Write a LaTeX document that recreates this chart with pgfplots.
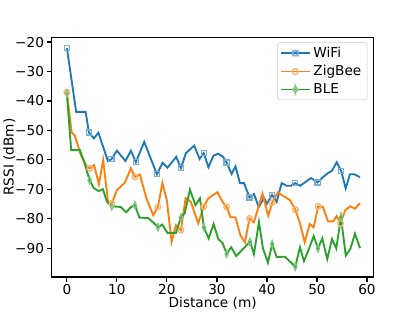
\documentclass[border=0pt]{standalone}
\usepackage{fontspec}
\setmainfont{DejaVu Sans}
\usepackage{pgfplots}
\pgfplotsset{compat=1.18}

\definecolor{c0}{HTML}{1F77B4}
\definecolor{c1}{HTML}{FF7F0E}
\definecolor{c2}{HTML}{2CA02C}

\begin{document}
\begin{tikzpicture}
  \begin{axis}[
      at={(0,0)}, anchor=south west,
      scale only axis,
      width=3.1in, height=2.31in,
      xmin=-3.0, xmax=61.3,
      ymin=-99.8, ymax=-18.4,
      xtick={0,10,...,60},
      ytick={-90,-80,...,-20},
      yticklabels={−90,−80,−70,−60,−50,−40,−30,−20},
      /pgf/number format/assume math mode=true,
      tick align=outside,
      tick pos=left,
      major tick length=3.5pt,
      every tick/.style={black, line width=0.8pt},
      axis line style={line width=0.8pt},
      ticklabel style={font=\fontsize{9.5}{11}\selectfont},
      xticklabel style={yshift=2pt},
      yticklabel style={xshift=1.5pt},
      xlabel={Distance (m)},
      ylabel={RSSI (dBm)},
      label style={font=\fontsize{9.5}{11}\selectfont},
      xlabel style={yshift=5pt},
      ylabel style={yshift=-7pt},
      legend cell align=left,
      legend style={at={(0.981,0.979)}, anchor=north east,
        draw=black!20, rounded corners=2pt, fill=white, fill opacity=0.8,
        text opacity=1, font=\fontsize{9.5}{11}\selectfont,
        row sep=0pt, inner xsep=2pt, inner ysep=1pt},
    ]
    % WiFi
    \addplot[c0, line width=1.3pt, mark=square,
      mark indices={1,4,8,12,14,18,22,27,32,37,42,46,51},
      mark options={solid, draw=c0!60!white, fill=none, line width=0.9pt, mark size=1.8pt},
      legend image code/.code={
        \draw[c0, line width=1.3pt] (0cm,0cm) -- (0.7cm,0cm);
        \draw[c0!60!white, line width=0.9pt, shift={(0.35cm,0cm)}] (-1.8pt,-1.8pt) rectangle (1.8pt,1.8pt);}]
      coordinates {
      (0,-22) (1.86,-43.7) (3.74,-43.7) (4.4,-50.7) (5.4,-52.7) (6.3,-50.8)
      (8.2,-60.4) (8.9,-59.8) (10.0,-56.9) (11.7,-60.4) (12.8,-56.9) (13.8,-60.8)
      (15.46,-53.9) (18.0,-64.9) (19.14,-61.0) (20.1,-62.7) (21.86,-59.0) (22.8,-62.8)
      (23.8,-57.7) (25.46,-55.2) (26.54,-59.7) (27.36,-57.7) (28.3,-62.5) (29.3,-58.6)
      (30.2,-57.9) (31.2,-58.9) (31.94,-60.9) (32.94,-64.8) (33.7,-62.2) (34.6,-67.9)
      (35.4,-67.9) (36.52,-72.8) (37.4,-71.6) (38.36,-76.0) (39.4,-73.0) (40.0,-74.9)
      (41.0,-71.9) (41.94,-74.3) (42.94,-67.9) (43.9,-68.8) (44.8,-68.8) (45.64,-67.9)
      (46.66,-68.8) (48.8,-66.2) (49.3,-66.7) (50.14,-67.7) (51.1,-66.0) (52.2,-64.5)
      (53.0,-63.7) (53.94,-60.8) (54.84,-63.8) (55.74,-69.7) (56.6,-64.9) (57.46,-64.9)
      (58.6,-65.9)
    };
    \addlegendentry{WiFi}
    % ZigBee
    \addplot[c1, line width=1.3pt, mark=o,
      mark indices={1,6,11,15,19,24,28,32,37,42,45,50,55},
      mark options={solid, draw=c1!60!white, fill=none, line width=0.9pt, mark size=2pt},
      legend image code/.code={
        \draw[c1, line width=1.3pt] (0cm,0cm) -- (0.7cm,0cm);
        \draw[c1!60!white, line width=0.9pt] (0.35cm,0cm) circle (2pt);}]
      coordinates {
      (0,-37.0) (0.94,-50.6) (1.6,-51.8) (2.8,-58.4) (4.0,-62.3) (4.6,-62.9)
      (5.46,-61.8) (6.4,-68.3) (7.26,-60.1) (8.26,-74.8) (9.0,-74.8) (10.0,-70.3)
      (11.6,-67.7) (12.8,-62.9) (13.6,-65.8) (14.6,-65.0) (15.94,-73.3) (17.26,-78.8)
      (18.2,-76.0) (19.1,-67.8) (20.0,-73.9) (20.94,-87.9) (21.8,-82.2) (22.8,-83.9)
      (23.74,-73.0) (24.8,-74.3) (26.26,-81.6) (27.36,-75.9) (28.26,-73.1) (30.1,-71.0)
      (31.14,-74.3) (31.94,-76.0) (32.7,-79.5) (33.7,-79.5) (34.7,-85.7) (35.6,-88.0)
      (36.52,-79.9) (37.4,-81.2) (38.4,-75.4) (39.1,-71.5) (40.26,-79.0) (41.06,-74.5)
      (42.14,-71.1) (44.6,-73.7) (45.7,-77.0) (46.6,-81.6) (47.54,-88.0) (48.54,-81.8)
      (49.34,-82.9) (50.24,-75.8) (51.2,-76.0) (52.2,-80.9) (53.2,-80.9) (53.94,-79.1)
      (54.7,-81.6) (55.66,-77.1) (56.6,-75.8) (57.6,-76.6) (58.6,-74.7)
    };
    \addlegendentry{ZigBee}
    % BLE
    \addplot[c2, line width=1.3pt, mark=diamond,
      mark indices={1,5,10,14,18,22,27,32,35,40,43,48,53},
      mark options={solid, draw=c2!60!white, fill=none, line width=0.9pt, mark size=2.5pt, xscale=0.6},
      legend image code/.code={
        \draw[c2, line width=1.3pt] (0cm,0cm) -- (0.7cm,0cm);
        \draw[c2!60!white, line width=0.9pt, shift={(0.35cm,0cm)}] (0pt,2.5pt) -- (1.5pt,0pt) -- (0pt,-2.5pt) -- (-1.5pt,0pt) -- cycle;}]
      coordinates {
      (0,-37.5) (0.86,-56.7) (2.6,-56.7) (3.54,-61.1) (4.54,-66.9) (5.4,-69.6)
      (6.34,-70.6) (7.2,-70.0) (8.04,-74.3) (9.0,-75.8) (10.76,-76.0) (11.86,-77.8)
      (12.76,-76.1) (13.6,-75.4) (14.5,-79.6) (16.26,-79.8) (17.4,-81.5) (18.2,-82.9)
      (19.06,-82.0) (20.1,-84.8) (21.8,-84.8) (22.8,-79.6) (23.54,-78.2) (24.6,-70.1)
      (25.7,-75.4) (26.6,-73.1) (27.4,-83.0) (28.34,-86.7) (29.34,-81.8) (30.26,-86.9)
      (31.14,-88.3) (31.94,-91.9) (32.86,-89.7) (33.86,-92.7) (36.6,-87.8) (37.4,-92.0)
      (38.4,-81.1) (39.2,-90.1) (40.2,-94.9) (41.04,-88.6) (41.94,-93.0) (43.6,-92.9)
      (45.66,-96.3) (46.6,-89.7) (47.4,-94.4) (48.4,-90.2) (49.34,-85.9) (50.2,-90.1)
      (51.06,-86.7) (52.06,-93.7) (53.0,-86.9) (53.86,-90.1) (54.8,-79.5) (55.76,-92.5)
      (56.66,-90.3) (57.6,-85.1) (58.6,-90.0)
    };
    \addlegendentry{BLE}
  \end{axis}
  % canvas 4in x 3in around the axes box
  \pgfresetboundingbox
  \useasboundingbox (-0.5in,-0.33in) rectangle (3.5in,2.67in);
\end{tikzpicture}
\end{document}
